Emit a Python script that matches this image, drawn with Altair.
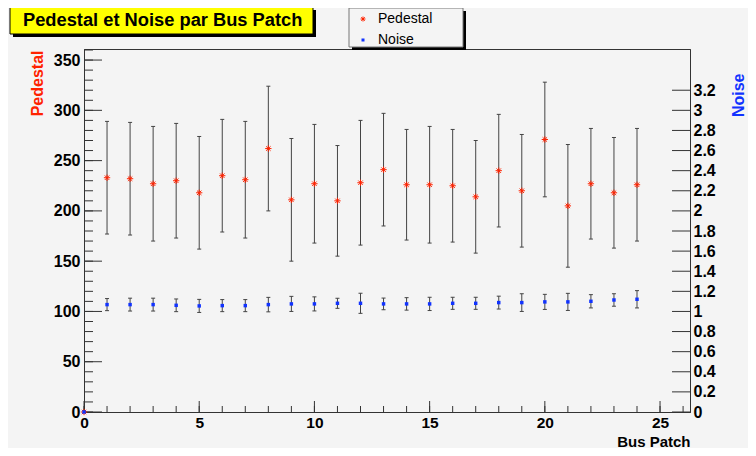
import altair as alt
import pandas as pd

# ---------------- data ----------------
bus = list(range(0, 25))
pedestal = [0, 233, 232, 227, 230, 218, 235, 231, 262, 211, 227, 210, 228,
            241, 226, 226, 225, 214, 240, 220, 271, 205, 227, 218, 226]
pedestal_err = [0, 56, 56, 57, 57, 56, 56, 58, 62, 61, 59, 55, 62,
                56, 55, 58, 56, 56, 56, 56, 57, 61, 55, 55, 56]
noise = [0, 1.068, 1.068, 1.068, 1.061, 1.055, 1.058, 1.058, 1.068, 1.075, 1.075, 1.081, 1.081,
         1.075, 1.075, 1.075, 1.081, 1.081, 1.088, 1.088, 1.095, 1.095, 1.101, 1.114, 1.121]
noise_err = [0, 0.060, 0.064, 0.064, 0.063, 0.065, 0.060, 0.060, 0.072, 0.075, 0.070, 0.050, 0.100,
             0.058, 0.062, 0.066, 0.060, 0.060, 0.064, 0.088, 0.075, 0.085, 0.066, 0.062, 0.086]

title_text = ["Pedestal et Noise par Bus Patch"]
legend_labels = ["Pedestal", "Noise"]
x_major = list(range(0, 30, 5))
x_minor = list(range(0, 27))
yl_major = list(range(0, 400, 50))
yl_minor = list(range(0, 361, 10))
yr_major = [round(0.2 * k, 1) for k in range(0, 17)]

# ---------------- styles ----------------
W, H = 606, 363
BG = "#f4f4f4"
FONT = "Liberation Sans"
RED = "#ff2200"
BLUE = "#1133ff"
ERR = "#444444"
AX = "#333333"
ASTER = "M-1,0L1,0M0,-1L0,1M-0.7,-0.7L0.7,0.7M-0.7,0.7L0.7,-0.7"
CAP = "M-1,0L1,0"

df = pd.DataFrame({
    "bus": bus,
    "ped": pedestal,
    "ped_lo": [p - e for p, e in zip(pedestal, pedestal_err)],
    "ped_hi": [p + e for p, e in zip(pedestal, pedestal_err)],
    "noise": noise,
    "noise_lo": [n - e for n, e in zip(noise, noise_err)],
    "noise_hi": [n + e for n, e in zip(noise, noise_err)],
})
err_df = df[df["bus"] > 0]

xscale = alt.Scale(domain=[0, 26.3], nice=False, zero=False)
x_axis = alt.Axis(values=x_major, ticks=False, tickSize=0, labelPadding=3,
                  labelFont=FONT, labelFontWeight="bold", labelFontSize=15.5, labelColor="black",
                  domainColor=AX, grid=False, title="Bus Patch", titleFont=FONT,
                  titleFontWeight="bold", titleFontSize=15, titleColor="black",
                  titleX=W, titleY=34, titleAlign="right", titleBaseline="alphabetic",
                  labelFlush=False)
X = alt.X("bus:Q", scale=xscale, axis=x_axis)

yl_scale = alt.Scale(domain=[0, 361], nice=False, zero=True)
yl_axis = alt.Axis(values=yl_major, ticks=False, tickSize=0, labelPadding=4,
                   labelFont=FONT, labelFontWeight="bold", labelFontSize=16, labelColor="black",
                   domainColor=AX, grid=False, orient="left", title="Pedestal",
                   titleFont=FONT, titleFontWeight="bold", titleFontSize=16, titleColor=RED,
                   titleAngle=270, titleX=-47, titleY=1, titleAlign="right",
                   titleBaseline="middle", labelFlush=False)

yr_scale = alt.Scale(domain=[0, 3.61], nice=False, zero=True)
yr_axis = alt.Axis(values=yr_major, format="~g", ticks=False, tickSize=0, labelPadding=3,
                   labelFont=FONT, labelFontWeight="bold", labelFontSize=16, labelColor="black",
                   domainColor=AX, grid=False, orient="right", title="Noise",
                   titleFont=FONT, titleFontWeight="bold", titleFontSize=16, titleColor=BLUE,
                   titleAngle=270, titleX=48, titleY=24, titleAlign="right",
                   titleBaseline="middle", labelFlush=False)

base = alt.Chart(df)
ebase = alt.Chart(err_df)

# ----- left (Pedestal) group -----
ped_bars = ebase.mark_rule(color=ERR, strokeWidth=1).encode(
    x=X, y=alt.Y("ped_lo:Q", scale=yl_scale, axis=yl_axis), y2="ped_hi:Q")
ped_cap_lo = ebase.mark_point(shape=CAP, size=16, filled=False, stroke=ERR, strokeWidth=1,
                              opacity=1).encode(
    x=X, y=alt.Y("ped_lo:Q", scale=yl_scale, axis=yl_axis))
ped_cap_hi = ebase.mark_point(shape=CAP, size=16, filled=False, stroke=ERR, strokeWidth=1,
                              opacity=1).encode(
    x=X, y=alt.Y("ped_hi:Q", scale=yl_scale, axis=yl_axis))
ped_pts = base.mark_point(shape=ASTER, size=40, filled=False, stroke=RED, strokeWidth=1,
                          opacity=1).encode(
    x=X, y=alt.Y("ped:Q", scale=yl_scale, axis=yl_axis))

ylt_major = alt.Chart(pd.DataFrame({"v": yl_major})).mark_rule(color=AX).encode(
    y=alt.Y("v:Q", scale=yl_scale, axis=yl_axis), x=alt.value(0), x2=alt.value(18))
ylt_minor = alt.Chart(pd.DataFrame({"v": yl_minor})).mark_rule(color=AX).encode(
    y=alt.Y("v:Q", scale=yl_scale, axis=yl_axis), x=alt.value(0), x2=alt.value(9))
xt_major = alt.Chart(pd.DataFrame({"bus": x_major})).mark_rule(color=AX).encode(
    x=X, y=alt.value(H), y2=alt.value(H - 11))
xt_minor = alt.Chart(pd.DataFrame({"bus": x_minor})).mark_rule(color=AX).encode(
    x=X, y=alt.value(H), y2=alt.value(H - 6))

# ----- decorations: title box and legend -----
one = alt.Chart(pd.DataFrame({"a": [0]}))
title_shadow = one.mark_rect(color="black").encode(
    x=alt.value(-71), x2=alt.value(232), y=alt.value(-39), y2=alt.value(-12))
title_box = one.mark_rect(fill="#ffff00", stroke="black", strokeWidth=1).encode(
    x=alt.value(-74), x2=alt.value(229), y=alt.value(-42), y2=alt.value(-15))
title_lbl = alt.Chart(pd.DataFrame({"t": title_text})).mark_text(
    font=FONT, fontWeight="bold", fontSize=18.3, color="black", align="left",
    baseline="middle").encode(text="t:N", x=alt.value(-61), y=alt.value(-28))

leg_df = pd.DataFrame({"label": legend_labels, "row": [0, 1]})
legend_shadow = one.mark_rect(color="black").encode(
    x=alt.value(268), x2=alt.value(382), y=alt.value(-38), y2=alt.value(1))
legend_box = one.mark_rect(fill=BG, stroke="#777777", strokeWidth=1).encode(
    x=alt.value(265), x2=alt.value(379), y=alt.value(-41), y2=alt.value(-2))
legend_txt = alt.Chart(leg_df).mark_text(
    font=FONT, fontSize=14, color="black", align="left", baseline="middle").encode(
    text="label:N", x=alt.value(294),
    y=alt.Y("row:Q", scale=alt.Scale(domain=[0, 1], range=[-30, -9]), axis=None))
leg_ped = one.mark_point(shape=ASTER, size=25, filled=False, stroke=RED, strokeWidth=1,
                         opacity=1).encode(x=alt.value(279), y=alt.value(-30))
leg_noise = one.mark_square(size=9, color=BLUE, opacity=1).encode(
    x=alt.value(279), y=alt.value(-9))

left = alt.layer(ylt_major, ylt_minor, xt_major, xt_minor, ped_bars, ped_cap_lo,
                 ped_cap_hi, ped_pts)

# ----- right (Noise) group -----
noise_bars = ebase.mark_rule(color=ERR, strokeWidth=1).encode(
    x=X, y=alt.Y("noise_lo:Q", scale=yr_scale, axis=yr_axis), y2="noise_hi:Q")
noise_cap_lo = ebase.mark_point(shape=CAP, size=16, filled=False, stroke=ERR, strokeWidth=1,
                                opacity=1).encode(
    x=X, y=alt.Y("noise_lo:Q", scale=yr_scale, axis=yr_axis))
noise_cap_hi = ebase.mark_point(shape=CAP, size=16, filled=False, stroke=ERR, strokeWidth=1,
                                opacity=1).encode(
    x=X, y=alt.Y("noise_hi:Q", scale=yr_scale, axis=yr_axis))
noise_pts = base.mark_square(size=12, color=BLUE, opacity=1).encode(
    x=X, y=alt.Y("noise:Q", scale=yr_scale, axis=yr_axis))
yrt = alt.Chart(pd.DataFrame({"v": yr_major})).mark_rule(color=AX).encode(
    y=alt.Y("v:Q", scale=yr_scale, axis=yr_axis), x=alt.value(W), x2=alt.value(W - 18))

right = alt.layer(yrt, noise_bars, noise_cap_lo, noise_cap_hi, noise_pts)

deco = alt.layer(title_shadow, title_box, title_lbl, legend_shadow, legend_box,
                 legend_txt, leg_ped, leg_noise)

chart = alt.layer(left, right, deco).resolve_scale(y="independent").properties(
    width=W, height=H,
    autosize=alt.AutoSizeParams(type="none"),
    padding={"left": 76, "top": 41, "right": 58, "bottom": 36},
    background=BG,
).configure_view(stroke=AX, strokeWidth=1)

chart.save("out.html", embed_options={"renderer": "svg", "actions": False})
